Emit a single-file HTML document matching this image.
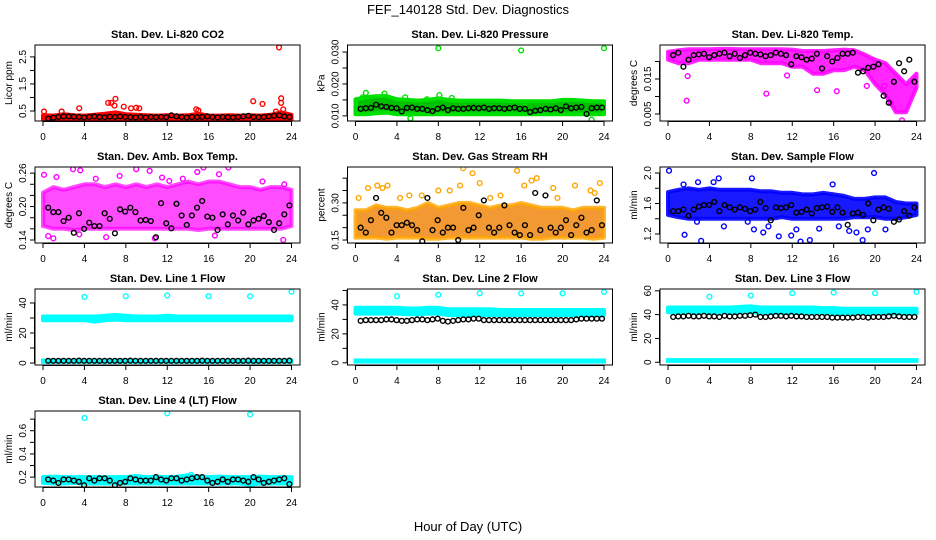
<!DOCTYPE html>
<html><head><meta charset="utf-8"><style>
html,body{margin:0;padding:0;background:#fff;}
svg{display:block;font-family:"Liberation Sans",Arial,sans-serif;}
</style></head><body>
<svg id="chart" width="936" height="540" viewBox="0 0 936 540">
<text x="468" y="14" font-size="13" text-anchor="middle">FEF_140128  Std. Dev. Diagnostics</text>
<text x="468" y="531" font-size="13" text-anchor="middle">Hour of Day (UTC)</text>
</svg>
<script>
const hours = [0,1,2,3,4,5,6,7,8,9,10,11,12,13,14,15,16,17,18,19,20,21,22,23,24];
const xTicks = [0,4,8,12,16,20,24];

// CO2
const co2Lo = [0.18,0.18,0.18,0.18,0.18,0.18,0.18,0.18,0.18,0.18,0.18,0.18,0.18,0.18,0.18,0.18,0.18,0.18,0.18,0.18,0.18,0.18,0.18,0.18,0.18];
const co2Hi = [0.34,0.33,0.38,0.34,0.33,0.36,0.40,0.45,0.38,0.36,0.34,0.33,0.34,0.33,0.34,0.40,0.33,0.33,0.34,0.33,0.34,0.33,0.36,0.45,0.36];
const co2Out = [[0.1,0.48],[1.8,0.48],[3.5,0.6],[6.3,0.8],[6.6,0.8],[7.0,0.95],[6.9,0.7],[7.8,0.66],[8.5,0.6],[9.0,0.62],[9.3,0.6],[14.8,0.56],[15.0,0.52],[20.3,0.86],[21.2,0.76],[22.8,2.85],[23.0,0.97],[23.0,0.8],[23.2,0.56],[22.5,0.48]];
const co2Blk = [0.22,0.25,0.28,0.30,0.30,0.29,0.28,0.26,0.28,0.30,0.28,0.27,0.29,0.28,0.30,0.28,0.27,0.26,0.28,0.26,0.28,0.27,0.28,0.27,0.34,0.30,0.28,0.26,0.28,0.27,0.28,0.30,0.28,0.26,0.28,0.27,0.26,0.28,0.30,0.32,0.28,0.27,0.28,0.30,0.32,0.34,0.30,0.28];

// Pressure
const prLo = [0.0105,0.0105,0.0108,0.011,0.0105,0.0105,0.0105,0.0105,0.0105,0.0105,0.0105,0.0105,0.0105,0.0105,0.0105,0.0105,0.0105,0.0105,0.0105,0.0105,0.0105,0.0105,0.0105,0.0105,0.0105];
const prHi = [0.0152,0.0158,0.0162,0.0162,0.0152,0.015,0.0148,0.015,0.0155,0.015,0.0148,0.0148,0.0148,0.0148,0.0148,0.0146,0.0146,0.0146,0.0146,0.0146,0.015,0.015,0.0148,0.0146,0.0146];
const prOut = [[8,0.0312],[16,0.0305],[24,0.0312],[1,0.0172],[2.8,0.017],[8.1,0.0165],[4.8,0.0158],[5.3,0.0092],[22.8,0.0088],[16.4,0.0142],[0.7,0.0158],[6.9,0.0152],[9.3,0.0156]];
const prBlk = [0.0122,0.0124,0.0125,0.0135,0.013,0.0128,0.0125,0.0124,0.0114,0.0125,0.0126,0.0122,0.0122,0.0118,0.0115,0.0122,0.0126,0.0118,0.0124,0.0122,0.0122,0.0124,0.0125,0.0124,0.0126,0.0122,0.0124,0.0124,0.0122,0.0124,0.0126,0.0122,0.0122,0.0112,0.0116,0.0118,0.0122,0.0120,0.0124,0.0118,0.013,0.0124,0.0126,0.0128,0.0106,0.0124,0.0126,0.0126];

// Li-820 temp
const ltLo = [0.0205,0.0195,0.0195,0.0205,0.0205,0.0205,0.0205,0.0205,0.0205,0.0195,0.0195,0.0195,0.0185,0.0185,0.0165,0.0165,0.0175,0.0175,0.0185,0.0175,0.0135,0.0105,0.0055,0.0055,0.0125];
const ltHi = [0.0228,0.0232,0.0235,0.0235,0.0235,0.0236,0.0236,0.0235,0.0235,0.0235,0.0235,0.0235,0.0234,0.023,0.023,0.023,0.0232,0.0234,0.0232,0.022,0.0205,0.0195,0.0165,0.0135,0.0165];
const ltOut = [[1.8,0.0088],[9.5,0.0108],[14.4,0.0118],[16.3,0.0115],[1.9,0.0158],[21.5,0.0082],[22.6,0.0032],[11.5,0.016],[19.2,0.013],[20.9,0.013]];
const ltBlk = [0.0218,0.0225,0.0185,0.0205,0.0218,0.022,0.0222,0.0212,0.0218,0.0222,0.0225,0.0215,0.0222,0.021,0.0218,0.0225,0.0222,0.022,0.0215,0.0218,0.0225,0.0222,0.0218,0.0192,0.0215,0.0212,0.0205,0.0208,0.0222,0.018,0.0215,0.020,0.021,0.0222,0.0222,0.0225,0.0168,0.0172,0.0182,0.0185,0.0192,0.0102,0.0082,0.0142,0.0195,0.0172,0.0205,0.0142];

// Amb box temp
const abLo = [0.165,0.16,0.16,0.158,0.16,0.16,0.16,0.16,0.16,0.16,0.16,0.16,0.16,0.16,0.16,0.158,0.16,0.16,0.16,0.16,0.16,0.16,0.16,0.16,0.165];
const abHi = [0.225,0.235,0.23,0.235,0.24,0.24,0.235,0.24,0.235,0.24,0.235,0.24,0.235,0.24,0.245,0.24,0.245,0.245,0.24,0.235,0.235,0.23,0.235,0.235,0.23];
const abOut = [[0.1,0.257],[1.3,0.253],[2.9,0.267],[3.6,0.265],[9.0,0.267],[10.3,0.264],[15.5,0.27],[17.9,0.27],[14.9,0.262],[17.0,0.258],[5.1,0.25],[7.4,0.255],[11.5,0.252],[21.2,0.245],[23.3,0.24],[0.5,0.147],[1.0,0.143],[3.5,0.15],[10.8,0.143],[23.2,0.14],[16.6,0.148],[6.1,0.145],[13.5,0.25],[12.2,0.246]];
const abBlk = [0.198,0.19,0.19,0.174,0.18,0.153,0.188,0.16,0.171,0.165,0.165,0.188,0.178,0.152,0.195,0.191,0.198,0.19,0.175,0.176,0.174,0.145,0.206,0.17,0.161,0.205,0.184,0.167,0.184,0.198,0.21,0.182,0.18,0.158,0.186,0.168,0.184,0.175,0.189,0.168,0.175,0.178,0.183,0.172,0.158,0.17,0.186,0.202];

// Gas stream RH
const rhLo = [0.16,0.16,0.16,0.155,0.16,0.16,0.16,0.155,0.155,0.16,0.16,0.16,0.16,0.16,0.16,0.16,0.16,0.155,0.155,0.16,0.16,0.16,0.16,0.155,0.16];
const rhHi = [0.27,0.27,0.29,0.28,0.28,0.27,0.28,0.30,0.28,0.29,0.30,0.30,0.29,0.28,0.29,0.29,0.30,0.29,0.28,0.28,0.28,0.27,0.28,0.28,0.28];
const rhOut = [[0.3,0.32],[1.2,0.36],[2.1,0.37],[2.6,0.36],[3.1,0.37],[5.2,0.33],[6.4,0.33],[8.0,0.35],[9.1,0.35],[10.4,0.44],[11.3,0.42],[12.0,0.38],[10.1,0.37],[15.6,0.43],[16.3,0.37],[17.0,0.39],[17.5,0.40],[19.1,0.36],[21.2,0.37],[22.7,0.35],[23.1,0.34],[23.6,0.38],[14.0,0.33],[13.0,0.32],[4.3,0.32],[19.5,0.32]];
const rhBlk = [0.20,0.18,0.23,0.32,0.26,0.24,0.18,0.21,0.21,0.22,0.21,0.19,0.145,0.32,0.19,0.23,0.18,0.20,0.20,0.15,0.28,0.19,0.20,0.25,0.31,0.20,0.18,0.20,0.29,0.21,0.18,0.17,0.21,0.17,0.34,0.19,0.33,0.20,0.18,0.20,0.23,0.17,0.21,0.24,0.18,0.19,0.31,0.21];

// Sample flow
const sfLo = [1.45,1.42,1.40,1.40,1.40,1.40,1.40,1.40,1.40,1.40,1.40,1.42,1.40,1.40,1.40,1.40,1.40,1.40,1.42,1.42,1.42,1.40,1.40,1.42,1.45];
const sfHi = [1.75,1.78,1.8,1.78,1.8,1.78,1.78,1.78,1.78,1.76,1.76,1.74,1.74,1.72,1.72,1.74,1.72,1.7,1.66,1.66,1.68,1.68,1.62,1.6,1.6];
const sfOut = [[0.1,2.03],[1.6,1.19],[2.8,1.36],[3.2,1.11],[4.9,1.93],[5.4,1.3],[7.7,1.36],[8.1,1.93],[8.3,1.26],[9.2,1.22],[9.7,1.3],[10.7,1.17],[11.9,1.18],[12.4,1.26],[12.8,1.1],[13.7,1.12],[14.6,1.27],[15.9,1.85],[16.5,1.3],[17.5,1.24],[18.2,1.22],[18.8,1.12],[19.3,1.26],[19.9,2.0],[21.0,1.26],[4.4,1.88],[1.5,1.85],[2.9,1.88]];
const sfBlk = [1.5,1.5,1.52,1.44,1.52,1.56,1.58,1.58,1.62,1.5,1.58,1.55,1.52,1.55,1.53,1.5,1.52,1.62,1.54,1.38,1.55,1.54,1.55,1.58,1.48,1.49,1.52,1.47,1.54,1.55,1.56,1.49,1.55,1.48,1.32,1.47,1.48,1.45,1.6,1.38,1.52,1.55,1.53,1.36,1.39,1.5,1.44,1.55];

// Line 1 flow
const l1Lo = [28.5,28.5,28.5,28.5,28.5,27.5,28.5,29,28.5,28.5,28.5,28.5,28.5,28.5,28.5,28.5,28.5,28.5,28.5,28.5,28.5,28.5,28.5,28.5,28.5];
const l1Hi = [31,31,31,31,31,31,31.5,32,31.5,31,31,31,31.5,31,31,31,31,31,31,31,31,31,31,31,31];
const l1Out = [[4,44],[8,44.5],[12,45],[16,44.5],[20,44.5],[24,47.5]];
const l1Base = [-0.5,3];
const l1Blk = [1.5,1.5,1.5,1.5,1.5,1.5,1.6,1.5,1.5,1.5,1.5,1.5,1.5,1.5,1.5,1.5,1.6,1.5,1.5,1.5,1.5,1.5,1.5,1.5,1.5,1.5,1.5,1.5,1.5,1.5,1.6,1.5,1.5,1.5,1.5,1.5,1.5,1.5,1.5,1.6,1.5,1.5,1.5,1.5,1.5,1.5,1.5,1.6];

// Line 2 flow
const l2Lo = [34,34,34,34,34,33.5,33.5,34,34,33,33,33,33,33,33,33,33,33,33,33,33,33,33,33,33];
const l2Hi = [38,38,38,38,38,37.5,37.5,38,38,37,37,37,37,37,36.5,36.5,36.5,36.5,36.5,36.5,36.5,36.5,36.5,36.5,36.5];
const l2Out = [[4,46],[8,47],[12,48],[16,48],[20,48],[24,49]];
const l2Base = [-0.5,3];
const l2Blk = [29,29.5,29.5,29.5,29.5,30,30,29.5,29,29,29.5,30,30,29.5,30,30.5,29,28.5,29,29.5,30,30,30.5,30.5,29.5,29.5,29.5,29.5,29.5,29.5,29.5,29.5,29.5,29.5,29.5,29.5,29.5,29.5,29.5,29.5,29.5,29.5,30,30.5,30.5,30.5,30.5,30.5];

// Line 3 flow
const l3Lo = [42,42,42,42,42,42,42,42,42,41.5,41.5,41.5,41.5,41.5,41.5,41.5,41,41,41,41,41,41,41,41,41];
const l3Hi = [46,46,46,46,46,46,46,46.5,47,46,46,46,46,46,46,45.5,45.5,45,45,45,45,45,45,45,45];
const l3Out = [[4,55],[8,56],[12,58],[16,58.5],[20,58],[24,59]];
const l3Base = [-0.5,3.5];
const l3Blk = [38,38.5,38.5,39,38.5,38.5,39,38.5,38.5,38,39,38.5,38.5,39,39,39.5,40,38,38,38.5,39,39,38.5,39,38.5,38.5,38,38,38,38,38,37.5,37.5,37.5,37.5,37.5,38,38,37.5,38,38,38,38.5,39,38.5,38,38,38];

// Line 4 flow
const l4Lo = [0.15,0.145,0.145,0.15,0.145,0.145,0.145,0.145,0.145,0.145,0.145,0.145,0.145,0.145,0.145,0.145,0.145,0.145,0.145,0.145,0.135,0.145,0.145,0.145,0.145];
const l4Hi = [0.2,0.205,0.2,0.2,0.2,0.2,0.2,0.2,0.2,0.21,0.2,0.205,0.2,0.205,0.215,0.205,0.2,0.205,0.2,0.2,0.2,0.205,0.2,0.2,0.2];
const l4Out = [[4,0.71],[12,0.75],[20,0.74],[14.3,0.22]];
const l4Blk = [0.18,0.17,0.15,0.18,0.18,0.17,0.16,0.13,0.19,0.17,0.19,0.19,0.17,0.13,0.15,0.16,0.19,0.18,0.17,0.17,0.17,0.20,0.18,0.17,0.19,0.19,0.17,0.18,0.19,0.2,0.2,0.17,0.15,0.16,0.18,0.16,0.18,0.18,0.17,0.16,0.20,0.18,0.15,0.16,0.17,0.18,0.19,0.14];

const NS = "http://www.w3.org/2000/svg";
const svg = document.getElementById('chart');
function mk(tag, attrs, parent){
  const e = document.createElementNS(NS, tag);
  for (const k in attrs) e.setAttribute(k, attrs[k]);
  (parent||svg).appendChild(e);
  return e;
}
function blkX(i, n){ return 0.5 + i*(23.3/(n-1)); }

function panel(p){
  const off = p.col*312.5, top = 45 + p.row*122, bot = top+76;
  const L = 35+off, R = 300+off;
  const g = mk('g', {});
  
  
  const sx = h => 43+off + h*(248.5/24);
  const sy = v => bot - (v - p.ymin)/(p.ymax - p.ymin)*76;
  const clip = 'clip-'+p.id;
  const cp = mk('clipPath', {id: clip}, g);
  mk('rect', {x:L, y:top, width:R-L, height:76}, cp);
  const plot = mk('g', {'clip-path':'url(#'+clip+')'}, g);
  if (p.base){
    const b = mk('rect', {x:sx(0)-2, y:sy(p.base[1]), width:sx(24)-sx(0)+4, height:sy(p.base[0])-sy(p.base[1]), fill:p.color}, plot);
    
    
  }
  let d = '';
  hours.forEach((h,i)=>{ d += (i?'L':'M') + sx(h).toFixed(1) + ',' + sy(p.hi[i]).toFixed(1); });
  for (let i=hours.length-1;i>=0;i--) d += 'L' + sx(hours[i]).toFixed(1) + ',' + sy(p.lo[i]).toFixed(1);
  const band = mk('path', {d: d+'Z', fill:p.fill||p.color, 'fill-opacity':p.op||1, stroke:p.color, 'stroke-opacity':p.op||1, 'stroke-width':4, 'stroke-linejoin':'round'}, plot);
  
  
  p.out.forEach(pt=>{
    const c = mk('circle', {cx:sx(pt[0]), cy:sy(pt[1]), r:2.4, fill:'none', stroke:p.color, 'stroke-width':1.4}, plot);
    
    
  });
  p.blk.forEach((v,i)=>{
    const c = mk('circle', {cx:sx(blkX(i, p.blk.length)), cy:sy(v), r:2.4, fill:'none', stroke:'#000', 'stroke-width':1.4}, plot);
    
    
  });
  const box = mk('rect', {x:L, y:top, width:R-L, height:76, fill:'none', stroke:'#000', 'stroke-width':1}, g);
  
  
  mk('line', {x1:sx(0), x2:sx(24), y1:bot+0.5, y2:bot+0.5, stroke:'#000'}, g);
  xTicks.forEach(t=>{
    mk('line', {x1:sx(t), x2:sx(t), y1:bot, y2:bot+5, stroke:'#000'}, g);
    const tx = mk('text', {x:sx(t), y:bot+19, 'font-size':10, 'text-anchor':'middle'}, g);
    tx.textContent = t;
    
    
  });
  p.yt.forEach(t=>{
    mk('line', {x1:L-5, x2:L, y1:sy(t), y2:sy(t), stroke:'#000'}, g);
  });
  mk('line', {x1:L-0.5, x2:L-0.5, y1:sy(p.yt[0]), y2:sy(p.yt[p.yt.length-1]), stroke:'#000'}, g);
  p.yl.forEach(t=>{
    const y = sy(t);
    const tx = mk('text', {x:0, y:0, 'font-size':10, 'text-anchor':'middle', transform:'translate('+(L-9)+','+y+') rotate(-90)'}, g);
    tx.textContent = t.toFixed(p.dec);
    
    
  });
  const yt = mk('text', {x:0,y:0,'font-size':10,'text-anchor':'middle',transform:'translate('+(L-23)+','+((top+bot)/2)+') rotate(-90)'}, g);
  yt.textContent = p.ylab;
  
  
  const ti = mk('text', {x:(L+R)/2, y:top-7, 'font-size':11, 'font-weight':'bold', 'text-anchor':'middle'}, g);
  ti.textContent = p.title;
  
  
}

panel({id:'co2',row:0,col:0,title:'Stan. Dev. Li-820 CO2',ylab:'Licor ppm',ymin:0.13,ymax:2.94,yt:[0.5,1,1.5,2,2.5],yl:[0.5,1.5,2.5],dec:1,color:'#ff0000',lo:co2Lo,hi:co2Hi,out:co2Out,blk:co2Blk});
panel({id:'pressure',row:0,col:1,title:'Stan. Dev. Li-820 Pressure',ylab:'kPa',ymin:0.0084,ymax:0.0322,yt:[0.01,0.015,0.02,0.025,0.03],yl:[0.01,0.02,0.03],dec:3,color:'#00e000',fill:'#00c000',lo:prLo,hi:prHi,out:prOut,blk:prBlk});
panel({id:'li820-temp',row:0,col:2,title:'Stan. Dev. Li-820 Temp.',ylab:'degrees C',ymin:0.003,ymax:0.0247,yt:[0.005,0.01,0.015,0.02],yl:[0.005,0.015],dec:3,color:'#ff00ff',op:0.85,lo:ltLo,hi:ltHi,out:ltOut,blk:ltBlk});
panel({id:'amb-box-temp',row:1,col:0,title:'Stan. Dev. Amb. Box Temp.',ylab:'degrees C',ymin:0.1346,ymax:0.271,yt:[0.14,0.16,0.18,0.2,0.22,0.24,0.26],yl:[0.14,0.2,0.26],dec:2,color:'#ff00ff',op:0.7,lo:abLo,hi:abHi,out:abOut,blk:abBlk});
panel({id:'gas-rh',row:1,col:1,title:'Stan. Dev. Gas Stream RH',ylab:'percent',ymin:0.138,ymax:0.445,yt:[0.15,0.2,0.25,0.3,0.35,0.4],yl:[0.15,0.3],dec:2,color:'#ffa500',fill:'#f08000',op:0.8,lo:rhLo,hi:rhHi,out:rhOut,blk:rhBlk});
panel({id:'sample-flow',row:1,col:2,title:'Stan. Dev. Sample Flow',ylab:'ml/min',ymin:1.082,ymax:2.079,yt:[1.2,1.4,1.6,1.8,2.0],yl:[1.2,1.6,2.0],dec:1,color:'#0000ff',op:0.9,lo:sfLo,hi:sfHi,out:sfOut,blk:sfBlk});
panel({id:'line1-flow',row:2,col:0,title:'Stan. Dev. Line 1 Flow',ylab:'ml/min',ymin:-1.3,ymax:49.3,yt:[0,10,20,30,40],yl:[0,20,40],dec:0,color:'#00ffff',lo:l1Lo,hi:l1Hi,out:l1Out,base:l1Base,blk:l1Blk});
panel({id:'line2-flow',row:2,col:1,title:'Stan. Dev. Line 2 Flow',ylab:'ml/min',ymin:-1.5,ymax:51,yt:[0,10,20,30,40,50],yl:[0,20,40],dec:0,color:'#00ffff',lo:l2Lo,hi:l2Hi,out:l2Out,base:l2Base,blk:l2Blk});
panel({id:'line3-flow',row:2,col:2,title:'Stan. Dev. Line 3 Flow',ylab:'ml/min',ymin:-2.3,ymax:61.5,yt:[0,20,40,60],yl:[0,20,40,60],dec:0,color:'#00ffff',lo:l3Lo,hi:l3Hi,out:l3Out,base:l3Base,blk:l3Blk});
panel({id:'line4-flow',row:3,col:0,title:'Stan. Dev. Line 4 (LT) Flow',ylab:'ml/min',ymin:0.115,ymax:0.77,yt:[0.2,0.3,0.4,0.5,0.6,0.7],yl:[0.2,0.4,0.6],dec:1,color:'#00ffff',lo:l4Lo,hi:l4Hi,out:l4Out,blk:l4Blk});
</script>
</body></html>
